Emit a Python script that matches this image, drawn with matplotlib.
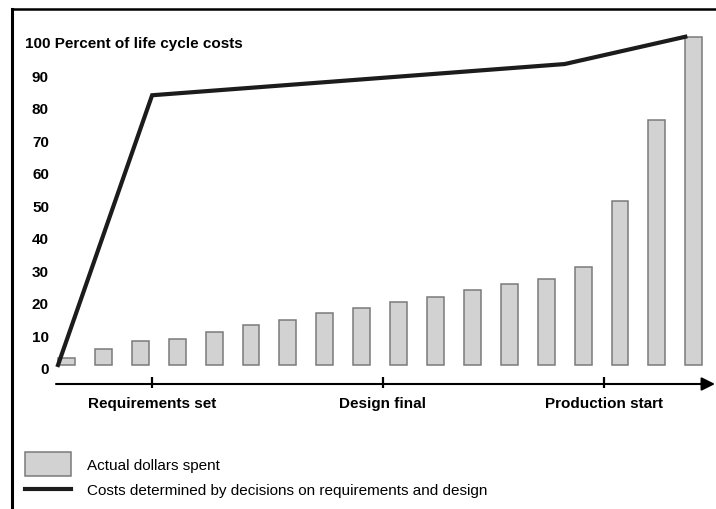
import matplotlib
matplotlib.use("Agg")
import matplotlib.pyplot as plt
from matplotlib.patches import Rectangle
from matplotlib.lines import Line2D
import numpy as np

plt.rcParams['font.family'] = ['Liberation Sans', 'DejaVu Sans']

# actual dollars spent per period (percent of life cycle costs)
spent = [2.2, 4.8, 7.5, 8.1, 10.3, 12.2, 13.8, 16.0, 17.5, 19.3,
         20.8, 23.0, 24.9, 26.6, 30.3, 50.5, 75.5, 100.8]
# committed costs curve (period position, percent)
committed_x = [-0.23, 2.32, 13.5, 16.77]
committed_y = [0, 83, 92.6, 101]
# milestones on the time axis
milestones = ["Requirements set", "Design final", "Production start"]
milestone_x = [2.32, 8.57, 14.57]
ytick_vals = [0, 10, 20, 30, 40, 50, 60, 70, 80, 90]
legend_labels = ["Actual dollars spent",
                 "Costs determined by decisions on requirements and design"]

BAR_FACE = '#d2d2d2'
BAR_EDGE = '#7a7a7a'
LINE_COL = '#1c1c1c'

W, H = 716, 510
# pixel -> data helpers (layout only)
def X(px):
    return (px - 66.5) / 36.9

def Y(py):
    return (366 - py) / 3.25

fig = plt.figure(figsize=(W / 100, H / 100), dpi=100)
ax = fig.add_axes([0, 0, 1, 1])
ax.set_xlim(X(0), X(W))
ax.set_ylim(Y(H), Y(0))
ax.axis('off')

# frame (left + top only visible)
fig.add_artist(Line2D([12 / W, 12 / W], [0, 1 - 10 / H], color='black', lw=2.2,
                      transform=fig.transFigure, solid_capstyle='projecting'))
fig.add_artist(Line2D([12 / W, 1], [1 - 10 / H, 1 - 10 / H], color='black', lw=1.8,
                      transform=fig.transFigure, solid_capstyle='projecting'))

idx = np.arange(len(spent))
ax.bar(idx, spent, width=0.46, color=BAR_FACE, edgecolor=BAR_EDGE, linewidth=1.1, zorder=2)
ax.plot(committed_x, committed_y, color=LINE_COL, lw=3, solid_joinstyle='miter', zorder=3)

# time axis with arrow
y_ax = Y(385)
ax.annotate('', xy=(X(715), y_ax), xytext=(X(56), y_ax),
            arrowprops=dict(arrowstyle='-|>', lw=1.5, color='black',
                            mutation_scale=20, shrinkA=0, shrinkB=0))
ax.vlines(milestone_x, Y(389), Y(378), color='black', lw=1.6)
for mx, name in zip(milestone_x, milestones):
    ax.text(mx, Y(404), name, ha='center', va='center', fontsize=11, fontweight='bold')

# y labels
for v in ytick_vals:
    ax.text(X(49), v - 1.3, str(v), ha='right', va='center', fontsize=11, fontweight='bold')
ax.text(X(25), Y(44), "100 Percent of life cycle costs", ha='left', va='center',
        fontsize=11, fontweight='bold')

# legend
fig.patches.append(Rectangle((25 / W, 1 - 477 / H), 46 / W, 24 / H,
                             transform=fig.transFigure, facecolor=BAR_FACE,
                             edgecolor=BAR_EDGE, linewidth=1.1))
fig.add_artist(Line2D([25 / W, 71 / W], [1 - 490 / H, 1 - 490 / H], color=LINE_COL,
                      lw=3, transform=fig.transFigure))
fig.text(87 / W, 1 - 466 / H, legend_labels[0], ha='left', va='center', fontsize=11)
fig.text(87 / W, 1 - 491 / H, legend_labels[1], ha='left', va='center', fontsize=11)

fig.savefig("out.png", dpi=100)
